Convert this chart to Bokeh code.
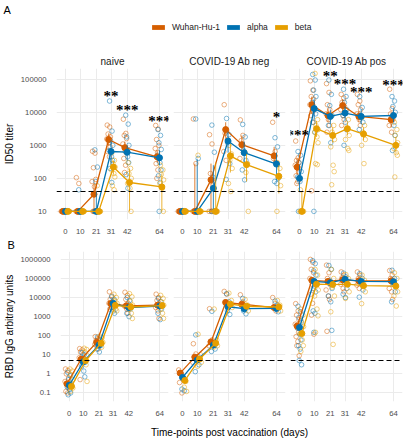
from bokeh.plotting import figure
from bokeh.models import (Range1d, FixedTicker, Span, LabelSet, ColumnDataSource,
                          Legend, LegendItem, Label)
from bokeh.layouts import column, row
from bokeh.embed import file_html
from bokeh.resources import INLINE

FONT = "Liberation Sans"

# ---------------- data ----------------
days = [0, 10, 21, 31, 42, 64]
variants = ["Wuhan-Hu-1", "alpha", "beta"]
colors = ["#D55E00", "#0072B2", "#E69F00"]
groups = ["naive", "COVID-19 Ab neg", "COVID-19 Ab pos"]

id50_ticks = [10, 100, 1000, 10000, 100000]
id50_tick_labels = ["10", "100", "1000", "10000", "100000"]
rbd_ticks = [0.1, 1, 10, 100, 1000, 10000, 100000, 1000000]
rbd_tick_labels = ["0.1", "1", "10", "100", "1000", "10000", "100000", "1000000"]
id50_cutoff = 40
rbd_cutoff = 5

# ID50 titer, naive
id50_naive_wuhan_pts = [[10, 10, 10, 10, 10, 10, 10, 10],
                        [105, 70, 10, 10, 10, 10, 10, 10],
                        [660, 580, 210, 93, 80, 56, 10, 10, 10, 10],
                        [4100, 3600, 2200, 1800, 1550, 1200, 900, 650, 450],
                        [6200, 2300, 2000, 1600, 1100, 850, 600, 400, 250, 150],
                        [4000, 3100, 1500, 1000, 800, 600, 400, 280, 180, 100]]
id50_naive_alpha_pts = [[10, 10, 10, 10, 10, 10, 10, 10],
                        [45, 10, 10, 10, 10, 10, 10],
                        [730, 220, 80, 10, 10, 10, 10, 10],
                        [22000, 2700, 1400, 1000, 700, 450, 350, 200, 75],
                        [8200, 4400, 1800, 1000, 650, 450, 300, 130, 50],
                        [3000, 2000, 1200, 750, 500, 300, 180, 120, 75, 10]]
id50_naive_beta_pts = [[10, 10, 10, 10, 10, 10, 10, 10],
                       [10, 10, 10, 10, 10, 10, 10, 10],
                       [60, 10, 10, 10, 10, 10, 10],
                       [600, 350, 280, 220, 180, 140, 110, 60, 45],
                       [300, 200, 140, 100, 70, 50, 10],
                       [250, 180, 130, 90, 70, 50, 10]]
id50_naive_wuhan_mean = [10, 10, 33, 1500, 850, 450]
id50_naive_alpha_mean = [10, 10, 10, 650, 620, 420]
id50_naive_beta_mean = [10, 10, 10, 220, 75, 55]
id50_naive_wuhan_lo = [10, 10, 10, 1000, 550, 300]
id50_naive_wuhan_hi = [10, 10, 70, 2300, 1300, 700]
id50_naive_alpha_lo = [10, 10, 10, 250, 350, 250]
id50_naive_alpha_hi = [10, 10, 40, 1400, 1000, 700]
id50_naive_beta_lo = [10, 10, 10, 130, 10, 10]
id50_naive_beta_hi = [10, 10, 10, 350, 200, 140]

# ID50 titer, COVID-19 Ab neg
id50_neg_wuhan_pts = [[10, 10, 10, 10, 10, 10],
                      [6300, 280, 10, 10, 10, 10, 10],
                      [2100, 1100, 140, 80, 10, 10, 10],
                      [17000, 2700, 2300, 1500, 650, 350],
                      [5900, 2000, 1400, 600, 400],
                      [5000, 650, 400, 300]]
id50_neg_alpha_pts = [[10, 10, 10, 10, 10, 10],
                      [6300, 400, 10, 10, 10, 10],
                      [4100, 620, 110, 10, 10, 10],
                      [6500, 2100, 1200, 280, 93],
                      [4300, 1800, 700, 350, 180, 90],
                      [1700, 900, 300, 100, 80, 70]]
id50_neg_beta_pts = [[10, 10, 10, 10, 10, 10],
                     [500, 10, 10, 10, 10, 10],
                     [10, 10, 10, 10, 10, 10],
                     [1000, 550, 350, 200, 70, 40],
                     [600, 280, 150, 10],
                     [300, 200, 110, 60, 10]]
id50_neg_wuhan_mean = [10, 10, 90, 3000, 1050, 480]
id50_neg_alpha_mean = [10, 10, 50, 1350, 600, 270]
id50_neg_beta_mean = [10, 10, 10, 480, 260, 115]
id50_neg_wuhan_lo = [10, 10, 10, 1700, 600, 250]
id50_neg_wuhan_hi = [10, 280, 280, 5000, 2000, 900]
id50_neg_alpha_lo = [10, 10, 10, 600, 250, 90]
id50_neg_alpha_hi = [10, 380, 250, 2600, 1300, 600]
id50_neg_beta_lo = [10, 10, 10, 150, 80, 35]
id50_neg_beta_hi = [10, 10, 300, 1100, 550, 250]

# ID50 titer, COVID-19 Ab pos
id50_pos_wuhan_pts = [[1350, 420, 350, 300, 250, 200, 160, 120, 80, 70],
                      [90000, 47000, 30000, 25000, 17000, 14000, 11000, 8000, 5000, 42],
                      [74000, 40000, 17000, 12000, 9000, 6000, 4000, 2500],
                      [35000, 27000, 20000, 15000, 12000, 8000, 6000, 4000],
                      [35000, 22000, 17000, 12000, 9000, 6000, 4000],
                      [50000, 13000, 9000, 6000, 4000, 2500]]
id50_pos_alpha_pts = [[650, 500, 300, 160, 110, 80, 10, 10],
                      [140000, 95000, 47000, 30000, 20000, 13000, 9000, 5000, 2500, 10],
                      [95000, 35000, 16000, 8000, 4000, 1200],
                      [50000, 30000, 20000, 12000, 8000, 5000, 3000, 1000],
                      [30000, 14000, 8000, 5000, 3000],
                      [30000, 22000, 15000, 10000, 7000, 4000, 2000, 700]]
id50_pos_beta_pts = [[45, 10, 10, 10, 10, 10],
                     [150000, 6000, 4000, 3000, 2500, 1800, 1200, 280, 260],
                     [8000, 4000, 2500, 1500, 900, 250, 160, 64],
                     [12000, 6000, 3000, 2000, 1500, 800, 700],
                     [7000, 4000, 2500, 1500, 1000, 280],
                     [5000, 3000, 2000, 1200, 800, 600, 500, 110]]
id50_pos_wuhan_mean = [220, 17000, 8000, 16000, 7500, 6000]
id50_pos_alpha_mean = [100, 13000, 7500, 9500, 7500, 8000]
id50_pos_beta_mean = [10, 3200, 2000, 3200, 2200, 1000]
id50_pos_wuhan_lo = [130, 9000, 5000, 10000, 5000, 3500]
id50_pos_wuhan_hi = [400, 30000, 13000, 25000, 11000, 10000]
id50_pos_alpha_lo = [40, 6000, 4500, 6000, 4500, 5000]
id50_pos_alpha_hi = [250, 25000, 12000, 15000, 12000, 13000]
id50_pos_beta_lo = [10, 1800, 1200, 2000, 1400, 600]
id50_pos_beta_hi = [40, 5500, 3500, 5000, 3500, 1800]

# significance marks (day, titer, text)
naive_star_days = [31, 42, 64]
naive_star_y = [38000, 15000, 6500]
naive_star_txt = ["**", "***", "***"]
neg_star_days = [64]
neg_star_y = [9000]
neg_star_txt = ["*"]
pos_star_days = [-1.2, 21, 31, 42, 64]
pos_star_y = [2500, 160000, 89000, 50000, 83000]
pos_star_txt = ["***", "**", "***", "***", "***"]

# RBD IgG, naive
rbd_naive_wuhan_pts = [[1.8, 1.5, 1.0, 0.6, 0.4, 0.3, 0.2, 0.12, 0.1],
                       [21, 18, 14, 10, 7, 5, 4, 0.5],
                       [90, 70, 55, 45, 35, 28, 20],
                       [20000, 12000, 8000, 6000, 5000, 4000, 3000, 2500],
                       [19000, 13000, 8000, 5000, 3500, 2500, 1500],
                       [15000, 10000, 7000, 5000, 3000, 2000, 800]]
rbd_naive_alpha_pts = [[1.2, 0.8, 0.5, 0.3, 0.2, 0.15, 0.1, 0.08],
                       [13, 10, 7, 4, 2.5, 1.4, 0.7],
                       [85, 60, 40, 30, 20, 14],
                       [11000, 8000, 6000, 4000, 3000, 2000, 1500],
                       [10000, 7000, 4000, 2500, 1500, 1000],
                       [9000, 6000, 4000, 2500, 1500, 700]]
rbd_naive_beta_pts = [[1.8, 1.4, 0.9, 0.5, 0.3, 0.25, 0.18, 0.12],
                      [22, 19, 14, 9, 6, 3, 0.4],
                      [95, 80, 60, 45, 35, 25],
                      [15000, 10000, 7000, 5000, 3500, 2500, 2000],
                      [16000, 11000, 6000, 4000, 2500, 1500, 800],
                      [13000, 9000, 6000, 4000, 2500, 1500, 800]]
rbd_naive_wuhan_mean = [0.3, 5.8, 45, 4900, 3700, 4000]
rbd_naive_alpha_mean = [0.25, 4.3, 32, 4900, 3000, 3600]
rbd_naive_beta_mean = [0.22, 5, 40, 3900, 3200, 3800]

# RBD IgG, COVID-19 Ab neg
rbd_neg_wuhan_pts = [[1.6, 1.1, 0.35, 0.1],
                     [38, 11, 8, 6, 4],
                     [2600, 60, 50, 40, 30],
                     [21000, 15000, 6000, 3500],
                     [14000, 6000, 4000, 3000],
                     [10000, 5000, 3000, 2000]]
rbd_neg_alpha_pts = [[1.0, 0.6, 0.16, 0.13],
                     [110, 8, 5, 3, 1.3],
                     [1900, 45, 30, 20, 15],
                     [16000, 6000, 2000, 1300],
                     [9000, 3000, 2000, 1400],
                     [6500, 4000, 2500, 1800]]
rbd_neg_beta_pts = [[0.5, 0.4, 0.2, 0.12],
                    [120, 10, 6, 4, 2.5],
                    [2500, 60, 45, 30, 25],
                    [17000, 7000, 4000, 3000],
                    [8000, 4000, 2500, 2000],
                    [7000, 4000, 3000, 2000]]
rbd_neg_wuhan_mean = [1.1, 7.5, 47, 5500, 4500, 3000]
rbd_neg_alpha_mean = [0.65, 5.3, 32, 3300, 2600, 2700]
rbd_neg_beta_mean = [0.45, 6, 40, 4500, 3500, 3200]

# RBD IgG, COVID-19 Ab pos
rbd_pos_wuhan_pts = [[4800, 2000, 1200, 700, 400, 250, 150, 90, 50, 30, 9],
                     [1000000, 700000, 300000, 200000, 100000, 50000, 30000, 15000, 5000, 1200, 120],
                     [500000, 200000, 100000, 50000, 25000, 12000, 8000, 170],
                     [220000, 150000, 110000, 80000, 50000, 30000, 20000],
                     [220000, 150000, 100000, 70000, 45000, 30000],
                     [260000, 150000, 100000, 60000, 30000, 20000, 8000]]
rbd_pos_alpha_pts = [[3500, 1800, 900, 500, 250, 120, 60, 30, 20, 5, 3],
                     [850000, 600000, 250000, 150000, 80000, 40000, 20000, 2000, 1500, 150],
                     [480000, 300000, 80000, 30000, 12000, 6000, 190],
                     [190000, 120000, 60000, 30000, 15000, 10000],
                     [180000, 100000, 60000, 25000, 10500],
                     [270000, 100000, 50000, 20000, 6000]]
rbd_pos_beta_pts = [[2500, 1200, 600, 300, 130, 60, 30, 15],
                    [300000, 150000, 60000, 25000, 12000, 2500, 1100, 150],
                    [300000, 100000, 35000, 12000, 1800, 35],
                    [160000, 100000, 50000, 20000, 9000],
                    [150000, 80000, 40000, 20000, 4800],
                    [200000, 100000, 50000, 20000, 12000, 3600]]
rbd_pos_wuhan_mean = [320, 80000, 70000, 85000, 75000, 75000]
rbd_pos_alpha_mean = [270, 70000, 60000, 90000, 70000, 68000]
rbd_pos_beta_mean = [130, 50000, 48000, 50000, 42000, 40000]

# ---------------- styling ----------------
DODGE = [-1.6, 0.0, 1.6]
JIT = [-1.0, 0.7, -0.4, 1.2, -1.3, 0.3, 1.0, -0.7, 0.5, -0.2, 1.4, -1.5]
XR = (-6.13, 70.13)
ID50_YR = (10 ** 0.754, 10 ** 5.327)
RBD_YR = (10 ** -1.449, 10 ** 6.414)


def make_panel(width, height, borders, yr, yticks, ylabels, series, cutoff,
               show_y=False, ylabel=None, title=None, title_left=False, stars=None):
    left, right, top, bottom = borders
    p = figure(width=width, height=height, x_range=Range1d(*XR), y_range=Range1d(*yr),
               y_axis_type="log", output_backend="svg", toolbar_location=None,
               min_border_left=left, min_border_right=right,
               min_border_top=top, min_border_bottom=bottom,
               outline_line_color=None)
    p.xaxis.ticker = FixedTicker(ticks=days)
    p.xgrid.ticker = FixedTicker(ticks=days)
    p.yaxis.ticker = FixedTicker(ticks=yticks)
    p.ygrid.ticker = FixedTicker(ticks=yticks)
    p.yaxis.major_label_overrides = {t: l for t, l in zip(yticks, ylabels)}
    for ax in (p.xaxis, p.yaxis):
        ax.axis_line_color = None
        ax.major_tick_line_color = None
        ax.minor_tick_line_color = None
        ax.major_label_text_font = FONT
        ax.major_label_text_font_size = "7.7px"
        ax.major_label_text_color = "#4D4D4D"
        ax.axis_label_text_font = FONT
        ax.axis_label_text_font_size = "10px"
        ax.axis_label_text_font_style = "normal"
        ax.axis_label_text_color = "#000000"
    p.xaxis.major_label_standoff = 3
    p.yaxis.major_label_standoff = 4
    p.yaxis.axis_label_standoff = 3
    p.grid.grid_line_color = "#EBEBEB"
    p.grid.grid_line_width = 1
    if show_y:
        p.yaxis.axis_label = ylabel
    else:
        p.yaxis.visible = False
    if title:
        p.title.text = title
        p.title.text_font = FONT
        p.title.text_font_style = "normal"
        if title_left:
            p.title.align = "left"
            p.title.offset = -(left - 3)
            p.title.text_font_size = "11px"
            p.title.text_color = "#000000"
            p.title.standoff = 1
        else:
            p.title.align = "center"
            p.title.text_font_size = "10px"
            p.title.text_color = "#1A1A1A"
            p.title.standoff = 3

    # individual values
    for v, (c, pts, mean, lo, hi) in enumerate(series):
        xs, ys = [], []
        for i, d in enumerate(days):
            for j, val in enumerate(pts[i]):
                xs.append(d + DODGE[v] + JIT[j % len(JIT)])
                ys.append(val)
        p.scatter(xs, ys, marker="circle", size=4.6, fill_color=None, line_color=c,
                  line_alpha=0.55, line_width=0.9)
    p.add_layout(Span(location=cutoff, dimension="width", line_color="#000000",
                      line_dash="5 3", line_width=1.1))
    # group means with intervals
    for v, (c, pts, mean, lo, hi) in enumerate(series):
        mx = [d + DODGE[v] for d in days]
        if lo is not None:
            p.segment(x0=mx, y0=lo, x1=mx, y1=hi, line_color=c, line_width=1.0, line_alpha=0.8)
        p.line(mx, mean, line_color=c, line_width=1.3)
        p.scatter(mx, mean, marker="circle", size=6, fill_color=c, line_color=c, line_width=1)
    if stars:
        sx, sy, st = stars
        src = ColumnDataSource(dict(x=sx, y=sy, t=st))
        p.add_layout(LabelSet(x="x", y="y", text="t", source=src, text_align="center",
                              text_baseline="middle", text_font=FONT, text_font_size="15px",
                              text_font_style="bold", text_color="#000000", y_offset=-3))
    return p


def series_of(w, a, b):
    return [(colors[0],) + w, (colors[1],) + a, (colors[2],) + b]


A_H = 188      # 20 + 154 + 14
B_H = 182      # 14 + 152 + 16
W1, W2, W3 = 170, 117, 118
BA1, BA2, BA3 = (56, 2, 20, 14), (3, 2, 20, 14), (3, 3, 20, 14)
BB1, BB2, BB3 = (56, 2, 14, 16), (3, 2, 14, 16), (3, 3, 14, 16)

a1 = make_panel(W1, A_H, BA1, ID50_YR, id50_ticks, id50_tick_labels,
                series_of((id50_naive_wuhan_pts, id50_naive_wuhan_mean, id50_naive_wuhan_lo, id50_naive_wuhan_hi),
                          (id50_naive_alpha_pts, id50_naive_alpha_mean, id50_naive_alpha_lo, id50_naive_alpha_hi),
                          (id50_naive_beta_pts, id50_naive_beta_mean, id50_naive_beta_lo, id50_naive_beta_hi)),
                id50_cutoff, show_y=True, ylabel="ID50 titer", title=groups[0],
                stars=(naive_star_days, naive_star_y, naive_star_txt))
a2 = make_panel(W2, A_H, BA2, ID50_YR, id50_ticks, id50_tick_labels,
                series_of((id50_neg_wuhan_pts, id50_neg_wuhan_mean, id50_neg_wuhan_lo, id50_neg_wuhan_hi),
                          (id50_neg_alpha_pts, id50_neg_alpha_mean, id50_neg_alpha_lo, id50_neg_alpha_hi),
                          (id50_neg_beta_pts, id50_neg_beta_mean, id50_neg_beta_lo, id50_neg_beta_hi)),
                id50_cutoff, title=groups[1],
                stars=(neg_star_days, neg_star_y, neg_star_txt))
a3 = make_panel(W3, A_H, BA3, ID50_YR, id50_ticks, id50_tick_labels,
                series_of((id50_pos_wuhan_pts, id50_pos_wuhan_mean, id50_pos_wuhan_lo, id50_pos_wuhan_hi),
                          (id50_pos_alpha_pts, id50_pos_alpha_mean, id50_pos_alpha_lo, id50_pos_alpha_hi),
                          (id50_pos_beta_pts, id50_pos_beta_mean, id50_pos_beta_lo, id50_pos_beta_hi)),
                id50_cutoff, title=groups[2],
                stars=(pos_star_days, pos_star_y, pos_star_txt))

b1 = make_panel(W1, B_H, BB1, RBD_YR, rbd_ticks, rbd_tick_labels,
                series_of((rbd_naive_wuhan_pts, rbd_naive_wuhan_mean, None, None),
                          (rbd_naive_alpha_pts, rbd_naive_alpha_mean, None, None),
                          (rbd_naive_beta_pts, rbd_naive_beta_mean, None, None)),
                rbd_cutoff, show_y=True, ylabel="RBD IgG arbitrary units", title="B", title_left=True)
b2 = make_panel(W2, B_H, BB2, RBD_YR, rbd_ticks, rbd_tick_labels,
                series_of((rbd_neg_wuhan_pts, rbd_neg_wuhan_mean, None, None),
                          (rbd_neg_alpha_pts, rbd_neg_alpha_mean, None, None),
                          (rbd_neg_beta_pts, rbd_neg_beta_mean, None, None)),
                rbd_cutoff)
b3 = make_panel(W3, B_H, BB3, RBD_YR, rbd_ticks, rbd_tick_labels,
                series_of((rbd_pos_wuhan_pts, rbd_pos_wuhan_mean, None, None),
                          (rbd_pos_alpha_pts, rbd_pos_alpha_mean, None, None),
                          (rbd_pos_beta_pts, rbd_pos_beta_mean, None, None)),
                rbd_cutoff)

# header: panel letter and legend
HDR_H = 48
hdr = figure(width=405, height=HDR_H, x_range=Range1d(0, 405), y_range=Range1d(0, HDR_H),
             output_backend="svg", toolbar_location=None, x_axis_location=None,
             y_axis_location=None, min_border=0, outline_line_color=None)
hdr.grid.visible = False
hdr.add_layout(Label(x=3, y=HDR_H - 3, text="A", text_baseline="top", text_align="left",
                     text_font=FONT, text_font_size="11px", text_color="#000000"))
items = []
for v, c in zip(variants, colors):
    # legend key swatch, placed outside the visible header range
    r = hdr.quad(left=[-20], right=[-10], top=[-10], bottom=[-20], fill_color=c, line_color=None)
    items.append(LegendItem(label=v, renderers=[r]))
leg = Legend(items=items, orientation="horizontal", location=(150, 16),
             glyph_width=16, glyph_height=6, label_height=10, label_width=0,
             label_standoff=6, spacing=5, padding=0, margin=0,
             label_text_font=FONT, label_text_font_size="8.5px", label_text_color="#1A1A1A",
             border_line_color=None, background_fill_alpha=0)
hdr.add_layout(leg)

# footer: shared x-axis title
FTR_H = 22
ftr = figure(width=405, height=FTR_H, x_range=Range1d(0, 405), y_range=Range1d(0, FTR_H),
             output_backend="svg", toolbar_location=None, x_axis_location=None,
             y_axis_location=None, min_border=0, outline_line_color=None)
ftr.grid.visible = False
ftr.add_layout(Label(x=229, y=8, text="Time-points post vaccination (days)", text_align="center",
                     text_baseline="middle", text_font=FONT, text_font_size="10px",
                     text_color="#000000"))

layout = column(hdr, row(a1, a2, a3), row(b1, b2, b3), ftr)
open("out.html", "w").write(file_html(layout, INLINE))
